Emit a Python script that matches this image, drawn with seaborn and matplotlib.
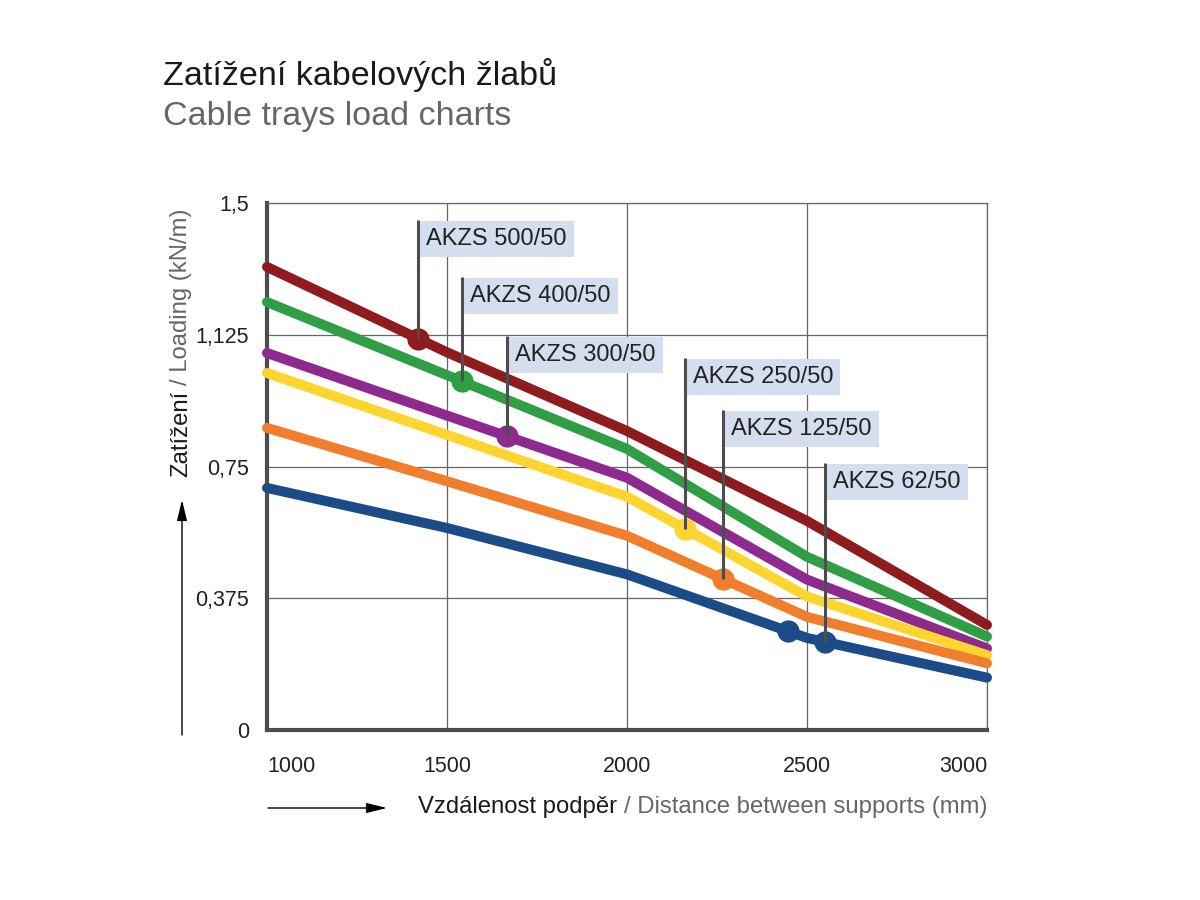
import matplotlib

matplotlib.use("Agg")
import matplotlib.pyplot as plt
import seaborn as sns
import numpy as np
import pandas as pd

# support distance (mm)
distances = [1000, 1500, 2000, 2500, 3000]

# load (kN/m) per tray type
series_names = ["AKZS 500/50", "AKZS 400/50", "AKZS 300/50",
                "AKZS 250/50", "AKZS 125/50", "AKZS 62/50"]
load_500 = [1.318, 1.075, 0.851, 0.595, 0.299]
load_400 = [1.218, 1.010, 0.800, 0.493, 0.266]
load_300 = [1.073, 0.895, 0.718, 0.428, 0.232]
load_250 = [1.016, 0.840, 0.664, 0.380, 0.213]
load_125 = [0.860, 0.708, 0.553, 0.322, 0.190]
load_62 = [0.689, 0.575, 0.443, 0.262, 0.149]
loads = [load_500, load_400, load_300, load_250, load_125, load_62]

# marked points (distance in mm) on each curve
marker_x = [[1420], [1542], [1667], [2160], [2268], [2447, 2550]]
# which marked point the label's leader goes to
leader_x = [1420, 1542, 1667, 2160, 2268, 2550]

y_ticks = [0, 0.375, 0.75, 1.125, 1.5]
y_tick_labels = ["0", "0,375", "0,75", "1,125", "1,5"]
x_ticks = [1000, 1500, 2000, 2500, 3000]
x_tick_labels = ["1000", "1500", "2000", "2500", "3000"]

colors = ["#8e1b1d", "#2f9e45", "#8e2a8e", "#fdd52e", "#f07e2c", "#1b4c88"]
# label box tops, in data units (layout only)
label_tops = [1.452, 1.290, 1.122, 1.059, 0.911, 0.760]

df = pd.DataFrame(
    {
        "distance": distances * len(series_names),
        "load": np.concatenate(loads),
        "series": np.repeat(series_names, len(distances)),
    }
)

sns.set_style("white")
plt.rcParams["font.family"] = ["Liberation Sans", "DejaVu Sans"]

fig = plt.figure(figsize=(12, 9), dpi=100)
ax = fig.add_axes([267 / 1200, 170 / 900, 720 / 1200, 527 / 900])

sns.lineplot(
    data=df,
    x="distance",
    y="load",
    hue="series",
    hue_order=series_names,
    palette=colors,
    linewidth=7.2,
    legend=False,
    ax=ax,
)
for line in ax.lines:
    line.set_solid_capstyle("round")
    line.set_solid_joinstyle("round")
    line.set_clip_on(False)
    line.set_zorder(3)

spine_col = "#4d4d4d"
for i, name in enumerate(series_names):
    mx = np.array(marker_x[i], dtype=float)
    my = np.interp(mx, distances, loads[i])
    ax.plot(mx, my, "o", color=colors[i], markersize=15, zorder=4, clip_on=False)
    lx = leader_x[i]
    ly = np.interp(lx, distances, loads[i])
    ax.plot([lx, lx], [ly, label_tops[i]], color=spine_col, lw=2.2, zorder=6,
            solid_capstyle="butt")
    ax.annotate(
        name,
        xy=(lx, label_tops[i]),
        xytext=(8, -19),
        textcoords="offset pixels",
        ha="left",
        va="center",
        fontsize=17,
        color="#222222",
        bbox=dict(boxstyle="square,pad=0.3", fc="#d5deef", ec="none"),
        zorder=5,
    )

ax.set_xlim(1000, 3000)
ax.set_ylim(0, 1.5)
ax.set_xticks(x_ticks)
ax.set_xticklabels(x_tick_labels)
ax.set_yticks(y_ticks)
ax.set_yticklabels(y_tick_labels)
ax.set_xlabel("")
ax.set_ylabel("")
ax.grid(True, color="#666666", lw=0.9)
ax.set_axisbelow(True)

for side in ["left", "bottom"]:
    ax.spines[side].set_color(spine_col)
    ax.spines[side].set_linewidth(3)
for side in ["top", "right"]:
    ax.spines[side].set_color("#666666")
    ax.spines[side].set_linewidth(0.9)

ax.tick_params(axis="both", direction="out", length=8, width=2.5, color=spine_col,
               labelsize=15.5, labelcolor="#222222")
ax.tick_params(axis="y", pad=5)
ax.tick_params(axis="x", pad=11)
xt = ax.get_xticklabels()
xt[0].set_ha("left")
xt[-1].set_ha("right")

# titles
fig.text(163 / 1200, 1 - 85 / 900, "Zatížení kabelových žlabů", fontsize=24.5,
         color="#1a1a1a", va="baseline")
fig.text(163 / 1200, 1 - 125 / 900, "Cable trays load charts", fontsize=24.5,
         color="#666666", va="baseline")

# axis labels in two colours
fig.canvas.draw()
renderer = fig.canvas.get_renderer()

xg = fig.text(987 / 1200, 1 - 813 / 900, "/ Distance between supports (mm)",
              fontsize=17.2, color="#666666", ha="right", va="baseline")
bb = xg.get_window_extent(renderer)
fig.text((bb.x0 - 6) / 1200, 1 - 813 / 900, "Vzdálenost podpěr", fontsize=17.2,
         color="#1a1a1a", ha="right", va="baseline")

yb = fig.text(181 / 1200, 1 - 477 / 900, "Zatížení", fontsize=17.2, color="#1a1a1a",
              rotation=90, ha="center", va="bottom")
bb = yb.get_window_extent(renderer)
fig.text(181 / 1200, (bb.y1 + 6) / 900, "/ Loading (kN/m)", fontsize=17.2,
         color="#666666", rotation=90, ha="center", va="bottom")

# arrows next to the axis labels
arrow = dict(arrowstyle="-|>,head_length=0.9,head_width=0.22", color="black", lw=1,
             mutation_scale=14, shrinkA=0, shrinkB=0)
ax.annotate("", xy=(387 / 1200, 1 - 808 / 900), xytext=(268 / 1200, 1 - 808 / 900),
            xycoords="figure fraction", textcoords="figure fraction", arrowprops=arrow)
ax.annotate("", xy=(182 / 1200, 1 - 500 / 900), xytext=(182 / 1200, 1 - 735 / 900),
            xycoords="figure fraction", textcoords="figure fraction", arrowprops=arrow)

fig.savefig("out.png", dpi=100, facecolor="white")
